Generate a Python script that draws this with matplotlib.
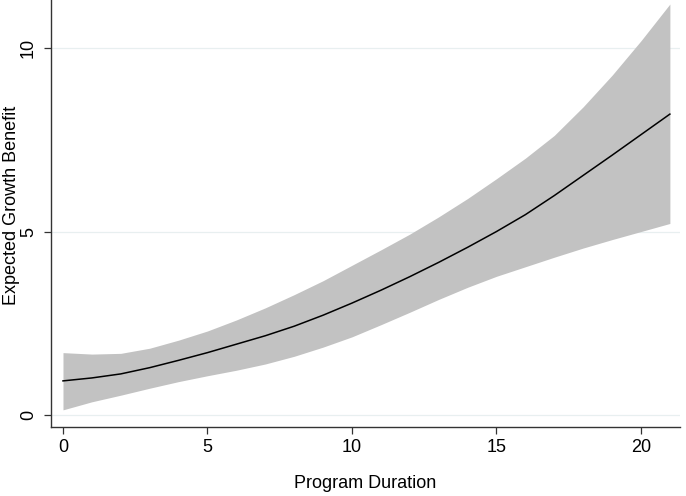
import matplotlib
matplotlib.use("Agg")
import matplotlib.pyplot as plt
import numpy as np

plt.rcParams['font.family'] = ['Liberation Sans', 'DejaVu Sans']

# values
duration = [0, 1, 2, 3, 4, 5, 6, 7, 8, 9, 10, 11, 12, 13, 14, 15, 16, 17, 18, 19, 20, 21]
benefit = [0.93, 1.01, 1.12, 1.29, 1.49, 1.70, 1.93, 2.16, 2.42, 2.72, 3.05,
           3.40, 3.77, 4.16, 4.57, 5.00, 5.46, 5.98, 6.53, 7.08, 7.64, 8.20]
ci_low = [0.14, 0.36, 0.54, 0.73, 0.91, 1.07, 1.22, 1.39, 1.60, 1.85, 2.13,
          2.46, 2.80, 3.15, 3.48, 3.78, 4.04, 4.30, 4.55, 4.78, 5.00, 5.22]
ci_high = [1.70, 1.66, 1.68, 1.82, 2.04, 2.29, 2.59, 2.92, 3.28, 3.66, 4.08,
           4.50, 4.93, 5.40, 5.90, 6.44, 7.00, 7.62, 8.40, 9.26, 10.2, 11.2]
xticks = [0, 5, 10, 15, 20]
yticks = [0, 5, 10]

fig = plt.figure(figsize=(6.86, 4.96), dpi=100)
ax = fig.add_axes([51 / 686, 1 - 427 / 496, 629 / 686, 427 / 496])

ax.fill_between(duration, ci_low, ci_high, color='#c2c2c2', lw=0, zorder=2)
ax.plot(duration, benefit, color='black', lw=1.1, zorder=3)

ax.set_xlim(-0.415, 21.35)
ax.set_ylim(-0.327, 11.31)
ax.set_xticks(xticks)
ax.set_yticks(yticks)
ax.grid(axis='y', color='#e8eff0', lw=0.9, zorder=1)
ax.grid(axis='x', visible=False)

for s in ['top', 'right']:
    ax.spines[s].set_visible(False)
for s in ['left', 'bottom']:
    ax.spines[s].set_color('#333333')
    ax.spines[s].set_linewidth(1.0)

ax.tick_params(axis='both', labelsize=13, length=5, width=0.9, color='#333333')
ax.tick_params(axis='x', pad=3.5)
ax.tick_params(axis='y', pad=5)
for lab in ax.get_yticklabels():
    lab.set_rotation(90)
    lab.set_va('center')

ax.set_xlabel('Program Duration', fontsize=13, labelpad=14)
ax.set_ylabel('Expected Growth Benefit', fontsize=13)
# kept just inside the left edge (the original is clipped there)
ax.yaxis.set_label_coords(-0.049, 0.52)

fig.savefig('out.png', dpi=100)
